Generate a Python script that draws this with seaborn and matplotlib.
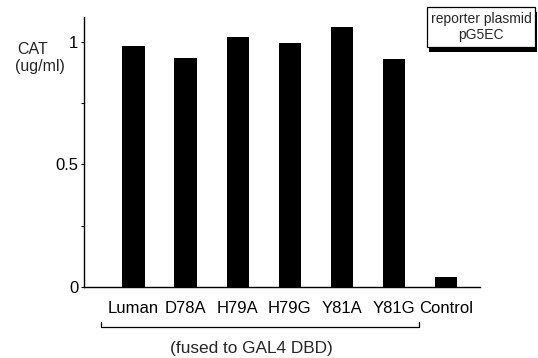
import matplotlib
matplotlib.use("Agg")
import matplotlib.pyplot as plt
from matplotlib.patches import Rectangle
from matplotlib.lines import Line2D
import seaborn as sns
import pandas as pd

categories = ["Luman", "D78A", "H79A", "H79G", "Y81A", "Y81G", "Control"]
cat_values = [0.982, 0.933, 1.021, 0.997, 1.06, 0.929, 0.04]
y_ticks = [0, 0.25, 0.5, 0.75, 1]
y_tick_labels = ["0", "", "0.5", "", "1"]
y_label_lines = ["CAT", "(ug/ml)"]
bracket_label = "(fused to GAL4 DBD)"
box_text = "reporter plasmid\npG5EC"

sns.set_style("white")
plt.rcParams["font.family"] = ["Liberation Sans", "DejaVu Sans"]

W, H = 538, 358
fig = plt.figure(figsize=(W / 100, H / 100), dpi=100)
ax = fig.add_axes([84 / W, (H - 287) / H, 396 / W, 270 / H])

df = pd.DataFrame({"cat": categories, "val": cat_values})
sns.barplot(data=df, x="cat", y="val", color="black", saturation=1,
            width=0.43, ax=ax, edgecolor="black", linewidth=0)

ax.set_xlim(-0.95, 6.65)
ax.set_ylim(0, 1.102)
ax.set_xlabel("")
ax.set_ylabel("")
ax.set_yticks(y_ticks)
ax.set_yticklabels(y_tick_labels, fontsize=12)
ax.tick_params(axis="y", direction="out", length=2.5, width=0.8, pad=1.5, left=True, colors="black")
ax.tick_params(axis="x", length=0, pad=10, labelsize=12, colors="black")
for s in ["top", "right"]:
    ax.spines[s].set_visible(False)
for s in ["left", "bottom"]:
    ax.spines[s].set_visible(True)
    ax.spines[s].set_color("black")
    ax.spines[s].set_linewidth(1.0)

# y label text
fig.text(33 / W, 1 - 49 / H, y_label_lines[0], ha="center", va="center", fontsize=11.5)
fig.text(40 / W, 1 - 67 / H, y_label_lines[1], ha="center", va="center", fontsize=11.5)

# bracket under first six categories
bx0, bx1, by, byt = 101 / W, 419 / W, 1 - 327 / H, 1 - 322 / H
fig.add_artist(Line2D([bx0, bx0, bx1, bx1], [byt, by, by, byt], color="black", lw=0.9))
fig.text(251 / W, 1 - 348 / H, bracket_label, ha="center", va="center", fontsize=12.4)

# reporter plasmid box with shadow
x0, x1, y0, y1 = 427, 535, 7, 47
fig.add_artist(Rectangle(((x0 + 2) / W, 1 - (y1 + 5) / H), (x1 - x0) / W, (y1 - y0) / H,
                         facecolor="black", edgecolor="none", transform=fig.transFigure))
fig.add_artist(Rectangle((x0 / W, 1 - y1 / H), (x1 - x0) / W, (y1 - y0) / H,
                         facecolor="white", edgecolor="black", lw=0.9, transform=fig.transFigure))
fig.text((x0 + x1) / 2 / W, 1 - 27 / H, box_text, ha="center", va="center",
         fontsize=10, linespacing=1.15)

fig.savefig("out.png", dpi=100)
